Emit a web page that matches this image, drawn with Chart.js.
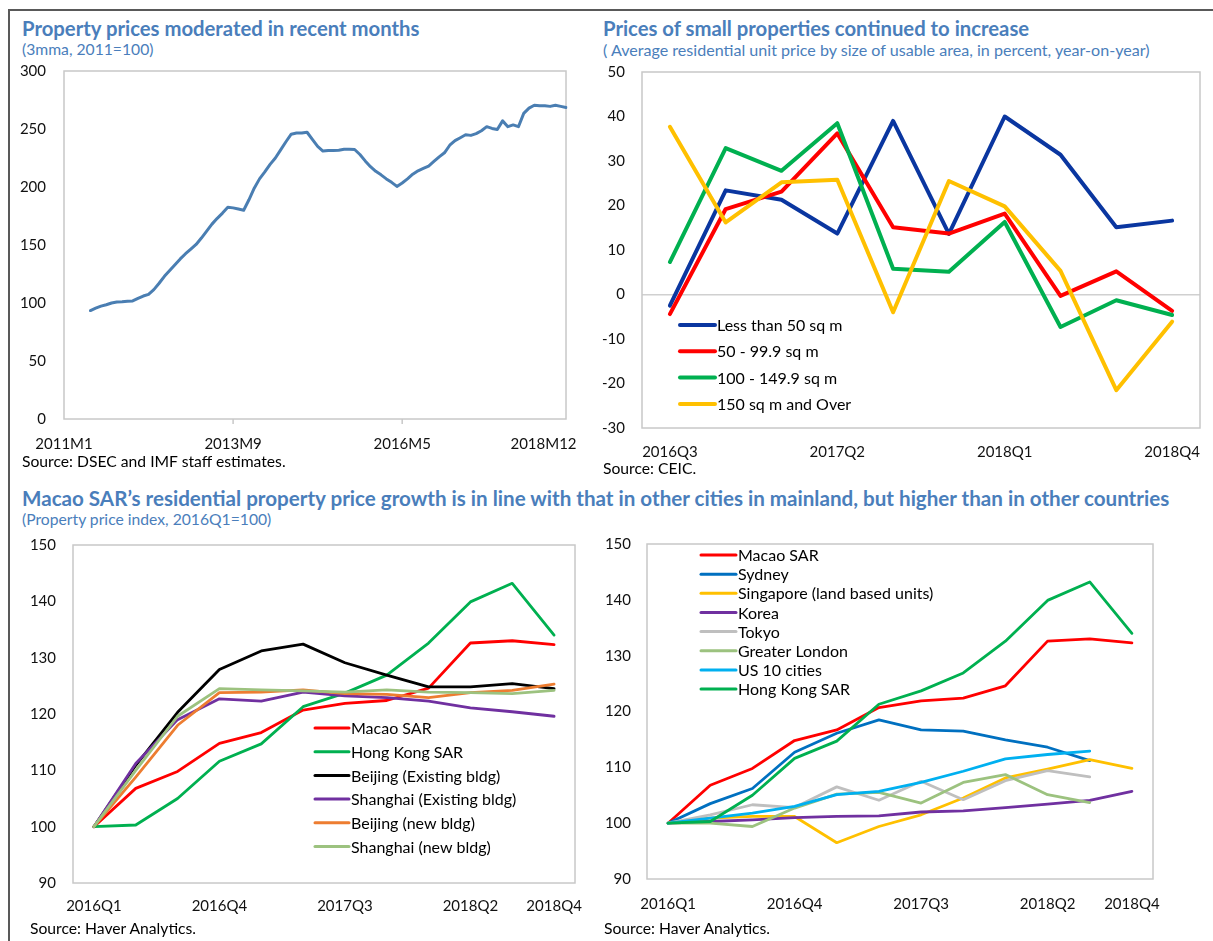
<!DOCTYPE html>
<html><head><meta charset="utf-8">
<script src="https://cdn.jsdelivr.net/npm/chart.js@4.4.1/dist/chart.umd.min.js"></script>
<style>
body{margin:0;background:#fff;width:1213px;height:941px;overflow:hidden;position:relative;font-family:Lato, sans-serif;}
.t{position:absolute;white-space:nowrap;line-height:1;z-index:5;}
.title{font-weight:700;color:#4a7ebb;font-size:20.3px;}
.sub{color:#4a7ebb;font-size:15.7px;}
.src{color:#000;font-size:15.7px;}
canvas{position:absolute;z-index:2;}
#frameTop{position:absolute;left:8px;top:9px;width:1205px;height:0;border-top:2px solid #595959;}
#frameLeft{position:absolute;left:8px;top:9px;width:0;height:932px;border-left:2px solid #595959;}
</style></head><body>
<div id="frameTop"></div><div id="frameLeft"></div>
<canvas id="c1" width="590" height="400" style="left:10px;top:60px"></canvas>
<canvas id="c2" width="613" height="400" style="left:600px;top:60px"></canvas>
<canvas id="c3" width="590" height="390" style="left:10px;top:530px"></canvas>
<canvas id="c4" width="613" height="390" style="left:600px;top:530px"></canvas>

<div class="t title" style="left:22px;top:18px">Property prices moderated in recent months</div>
<div class="t sub" style="left:22px;top:42px">(3mma, 2011=100)</div>
<div class="t title" style="left:603px;top:18px">Prices of small properties continued to increase</div>
<div class="t sub" style="left:603px;top:42px;font-size:16.1px">( Average residential unit price by size of usable area, in percent, year-on-year)</div>
<div class="t src" style="left:22px;top:454px">Source: DSEC and IMF staff estimates.</div>
<div class="t src" style="left:603px;top:461px">Source: CEIC.</div>
<div class="t title" style="left:22px;top:488px;font-size:20.6px">Macao SAR’s residential property price growth is in line with that in other cities in mainland, but higher than in other countries</div>
<div class="t sub" style="left:22px;top:512px">(Property price index, 2016Q1=100)</div>
<div class="t src" style="left:30px;top:921px">Source: Haver Analytics.</div>
<div class="t src" style="left:604px;top:921px">Source: Haver Analytics.</div>

<script>
// ---------- DATA ----------
// Panel 1: monthly, 2011M1..2018M12 (3mma, 2011=100)
const p1Months = [];
for (let y = 2011; y <= 2018; y++) for (let m = 1; m <= 12; m++) p1Months.push(y + 'M' + m);
const p1TickLabels = ['2011M1', '2013M9', '2016M5', '2018M12'];
const p1Prices = [
  null, null, null, null, null,
  93.5, 95.5, 97.3, 98.5, 100, 100.8, 101, 101.5, 101.8, 104,
  106, 107.5, 111.5, 117, 123, 128, 133, 138, 142.5, 146.5,
  150.5, 156, 162, 168, 173, 177.5, 182.5, 182, 181, 180,
  189, 199, 207, 213, 219.5, 225, 232, 239, 245.5, 246.5,
  246.5, 247.2, 241, 235, 231, 231.5, 231.5, 231.7, 232.5, 232.5,
  232.3, 228, 222.5, 217.5, 213.5, 210.5, 207, 204, 200.5, 203.5,
  207, 211, 214, 216, 218, 222, 226, 229.5, 236, 240,
  242.5, 245, 244.5, 246, 248.5, 252, 250.5, 249.5, 257, 252,
  253.5, 252, 263.5, 268, 270.5, 270, 270, 269.5, 270.5, 269.5,
  268.5
];

// Panel 2: quarterly y/y % by size
const p2Quarters = ['2016Q3','2016Q4','2017Q1','2017Q2','2017Q3','2017Q4','2018Q1','2018Q2','2018Q3','2018Q4'];
const p2TickLabels = ['2016Q3','2017Q2','2018Q1','2018Q4'];
const lessThan50 = [-2.5, 23.4, 21.3, 13.7, 39.0, 13.6, 40.0, 31.4, 15.1, 16.6];
const from50to99 = [-4.4, 19.2, 23.1, 36.2, 15.1, 13.7, 18.2, -0.3, 5.2, -3.7];
const from100to149 = [7.3, 32.9, 27.8, 38.5, 5.8, 5.1, 16.3, -7.3, -1.3, -4.6];
const over150 = [37.7, 16.2, 25.2, 25.8, -4.0, 25.5, 19.8, 5.3, -21.5, -6.1];

// Panels 3 & 4: property price index, 2016Q1=100
const p3Quarters = ['2016Q1','2016Q2','2016Q3','2016Q4','2017Q1','2017Q2','2017Q3','2017Q4','2018Q1','2018Q2','2018Q3','2018Q4'];
const p3TickLabels = ['2016Q1','2016Q4','2017Q3','2018Q2','2018Q4'];
const macao = [100, 106.8, 109.8, 114.8, 116.7, 120.7, 121.9, 122.4, 124.6, 132.6, 133.0, 132.3];
const hongKong = [100, 100.3, 105.0, 111.6, 114.7, 121.3, 123.7, 126.9, 132.6, 139.9, 143.2, 134.0];
const beijingExisting = [100, 110.9, 120.3, 127.9, 131.2, 132.4, 129.1, 126.9, 124.8, 124.8, 125.4, 124.5];
const shanghaiExisting = [100, 111.2, 119.0, 122.7, 122.3, 123.9, 123.2, 122.9, 122.3, 121.1, 120.4, 119.6];
const beijingNew = [100, 108.8, 118.0, 123.8, 123.9, 124.3, 123.6, 123.5, 122.9, 123.8, 124.2, 125.3];
const shanghaiNew = [100, 110.0, 119.6, 124.5, 124.3, 124.1, 123.9, 124.3, 123.9, 123.8, 123.6, 124.2];
const sydney = [100, 103.5, 106.2, 112.7, 116.1, 118.5, 116.7, 116.5, 114.9, 113.6, 111.2, null];
const singapore = [100, 100.9, 101.2, 101.2, 96.5, 99.4, 101.5, 104.5, 108.1, 109.7, 111.4, 109.8];
const korea = [100, 100.3, 100.6, 101.0, 101.2, 101.3, 102.0, 102.2, 102.8, 103.4, 104.1, 105.7];
const tokyo = [100, 101.5, 103.3, 102.8, 106.5, 104.1, 107.5, 104.2, 107.6, 109.4, 108.3, null];
const greaterLondon = [100, 100.0, 99.4, 102.7, 105.2, 105.5, 103.6, 107.3, 108.7, 105.1, 103.7, null];
const us10Cities = [100, 100.9, 101.8, 103.0, 105.1, 105.7, 107.3, 109.3, 111.5, 112.3, 112.9, null];

// ---------- HELPERS ----------
const FONT = 'Lato';
const TICK = 15;
const LEG = 16;
const CLEAR = 'rgba(0,0,0,0)';

function framePlugin(color, tickIdx, tickLen){
  return { id:'frame', beforeDatasetsDraw(chart){
    const a = chart.chartArea, c = chart.ctx;
    c.save(); c.strokeStyle = color; c.lineWidth = 1.5;
    c.strokeRect(a.left, a.top, a.right - a.left, a.bottom - a.top);
    (tickIdx || []).forEach(i => {
      const x = chart.scales.x.getPixelForTick(i);
      c.beginPath(); c.moveTo(x, a.bottom); c.lineTo(x, a.bottom + tickLen); c.stroke();
    });
    c.restore();
  }};
}
function legendPlugin(cfg){
  return { id:'lineLegend', afterDatasetsDraw(chart){
    const c = chart.ctx;
    c.save();
    chart.data.datasets.forEach((ds, i) => {
      const y = cfg.y + i * cfg.dy;
      c.strokeStyle = ds.borderColor; c.lineWidth = cfg.lw; c.lineCap = 'round';
      c.beginPath(); c.moveTo(cfg.x, y); c.lineTo(cfg.x + cfg.len, y); c.stroke();
      c.fillStyle = '#000'; c.font = LEG + 'px ' + FONT; c.textBaseline = 'middle'; c.textAlign = 'left';
      c.fillText(ds.label, cfg.x + cfg.len + 2, y + 1);
    });
    c.restore();
  }};
}
function makeChart(id, labels, datasets, p, plugins){
  const n = datasets.length;
  datasets.forEach((d, i) => { d.order = n - i; d.fill = false; d.borderWidth = d.borderWidth || p.lw; d.spanGaps = false; });
  return new Chart(document.getElementById(id), {
    type:'line',
    data:{ labels, datasets },
    options:{
      responsive:false, animation:false, devicePixelRatio:1,
      layout:{ padding:{ top:p.padTop, right:p.padRight, left:0, bottom:0 } },
      plugins:{ legend:{ display:false }, tooltip:{ enabled:false } },
      elements:{ point:{ radius:0 }, line:{ tension:0, borderJoinStyle:'round', borderCapStyle:'round' } },
      scales:{
        x:{
          type:'category', offset:p.offset,
          afterFit:s => { s.height = p.xH; s.paddingLeft = 0; s.paddingRight = 0; },
          border:{ display:false },
          grid:{ display:true, drawOnChartArea:false, drawTicks:true, tickLength:p.xGap, color:CLEAR, tickColor:CLEAR },
          ticks:{ autoSkip:false, maxRotation:0, minRotation:0, padding:0, color:'#111',
                  font:{ family:FONT, size:TICK },
                  callback:function(v, i){
                    const l = this.getLabelForValue(v);
                    if (!p.xLabels.includes(l)) return '';
                    // the last label sits shifted left, inside the frame, as in the original
                    return (p.shiftLast && i === labels.length - 1) ? l + '\u2002'.repeat(p.shiftLast) : l;
                  } }
        },
        y:{
          min:p.yMin, max:p.yMax,
          afterFit:s => { s.width = p.yW; },
          border:{ display:false },
          grid:{ display:true, drawOnChartArea:!!p.zeroLine, drawTicks:true, tickLength:p.yGap, tickColor:CLEAR, lineWidth:1.5,
                 color:c => (p.zeroLine && c.tick && c.tick.value === 0 ? '#d0d0d0' : CLEAR) },
          ticks:{ stepSize:p.yStep, padding:0, color:'#111', font:{ family:FONT, size:TICK } }
        }
      }
    },
    plugins
  });
}

// ---------- PANEL 1 ----------
makeChart('c1', p1Months, [
  { label:'Property prices', data:p1Prices, borderColor:'#4a7eb2' }
], { padTop:11, padRight:34, yW:54, xH:41, offset:false, shiftLast:6,
     xLabels:p1TickLabels, xGap:16, yGap:18, yMin:0, yMax:300, yStep:50, lw:3 },
   [framePlugin('#c8c8c8', [32, 64], 5)]);

// ---------- PANEL 2 ----------
makeChart('c2', p2Quarters, [
  { label:'Less than 50 sq m', data:lessThan50, borderColor:'#0a36a0' },
  { label:'50 - 99.9 sq m', data:from50to99, borderColor:'#ff0000' },
  { label:'100 - 149.9 sq m', data:from100to149, borderColor:'#00b050' },
  { label:'150 sq m and Over', data:over150, borderColor:'#ffc000' }
], { padTop:12, padRight:13, yW:42, xH:32, offset:true,
     xLabels:p2TickLabels, xGap:15, yGap:17, yMin:-30, yMax:50, yStep:10, lw:4, zeroLine:true },
   [framePlugin('#c8c8c8'), legendPlugin({ x:80, y:265, dy:26.3, len:35, lw:4 })]);

// ---------- PANEL 3 ----------
makeChart('c3', p3Quarters, [
  { label:'Macao SAR', data:macao, borderColor:'#ff0000' },
  { label:'Hong Kong SAR', data:hongKong, borderColor:'#00b050' },
  { label:'Beijing (Existing bldg)', data:beijingExisting, borderColor:'#000000' },
  { label:'Shanghai (Existing bldg)', data:shanghaiExisting, borderColor:'#7030a0' },
  { label:'Beijing (new bldg)', data:beijingNew, borderColor:'#ed7d31' },
  { label:'Shanghai (new bldg)', data:shanghaiNew, borderColor:'#9cc27f' }
], { padTop:15, padRight:25, yW:63, xH:37, offset:true,
     xLabels:p3TickLabels, xGap:14, yGap:17, yMin:90, yMax:150, yStep:10, lw:2.8 },
   [framePlugin('#c8c8c8'), legendPlugin({ x:305, y:198, dy:23.7, len:34, lw:3 })]);

// ---------- PANEL 4 ----------
makeChart('c4', p3Quarters, [
  { label:'Macao SAR', data:macao, borderColor:'#ff0000' },
  { label:'Sydney', data:sydney, borderColor:'#0070c0' },
  { label:'Singapore (land based units)', data:singapore, borderColor:'#ffc000' },
  { label:'Korea', data:korea, borderColor:'#7030a0' },
  { label:'Tokyo', data:tokyo, borderColor:'#bfbfbf' },
  { label:'Greater London', data:greaterLondon, borderColor:'#9cc27f' },
  { label:'US 10 cities', data:us10Cities, borderColor:'#00b0f0' },
  { label:'Hong Kong SAR', data:hongKong, borderColor:'#00b050' }
], { padTop:14, padRight:60, yW:47, xH:41, offset:true,
     xLabels:p3TickLabels, xGap:16, yGap:16, yMin:90, yMax:150, yStep:10, lw:2.8 },
   [framePlugin('#c8c8c8'), legendPlugin({ x:101, y:25, dy:19.15, len:35, lw:3 })]);
</script>
</body></html>
